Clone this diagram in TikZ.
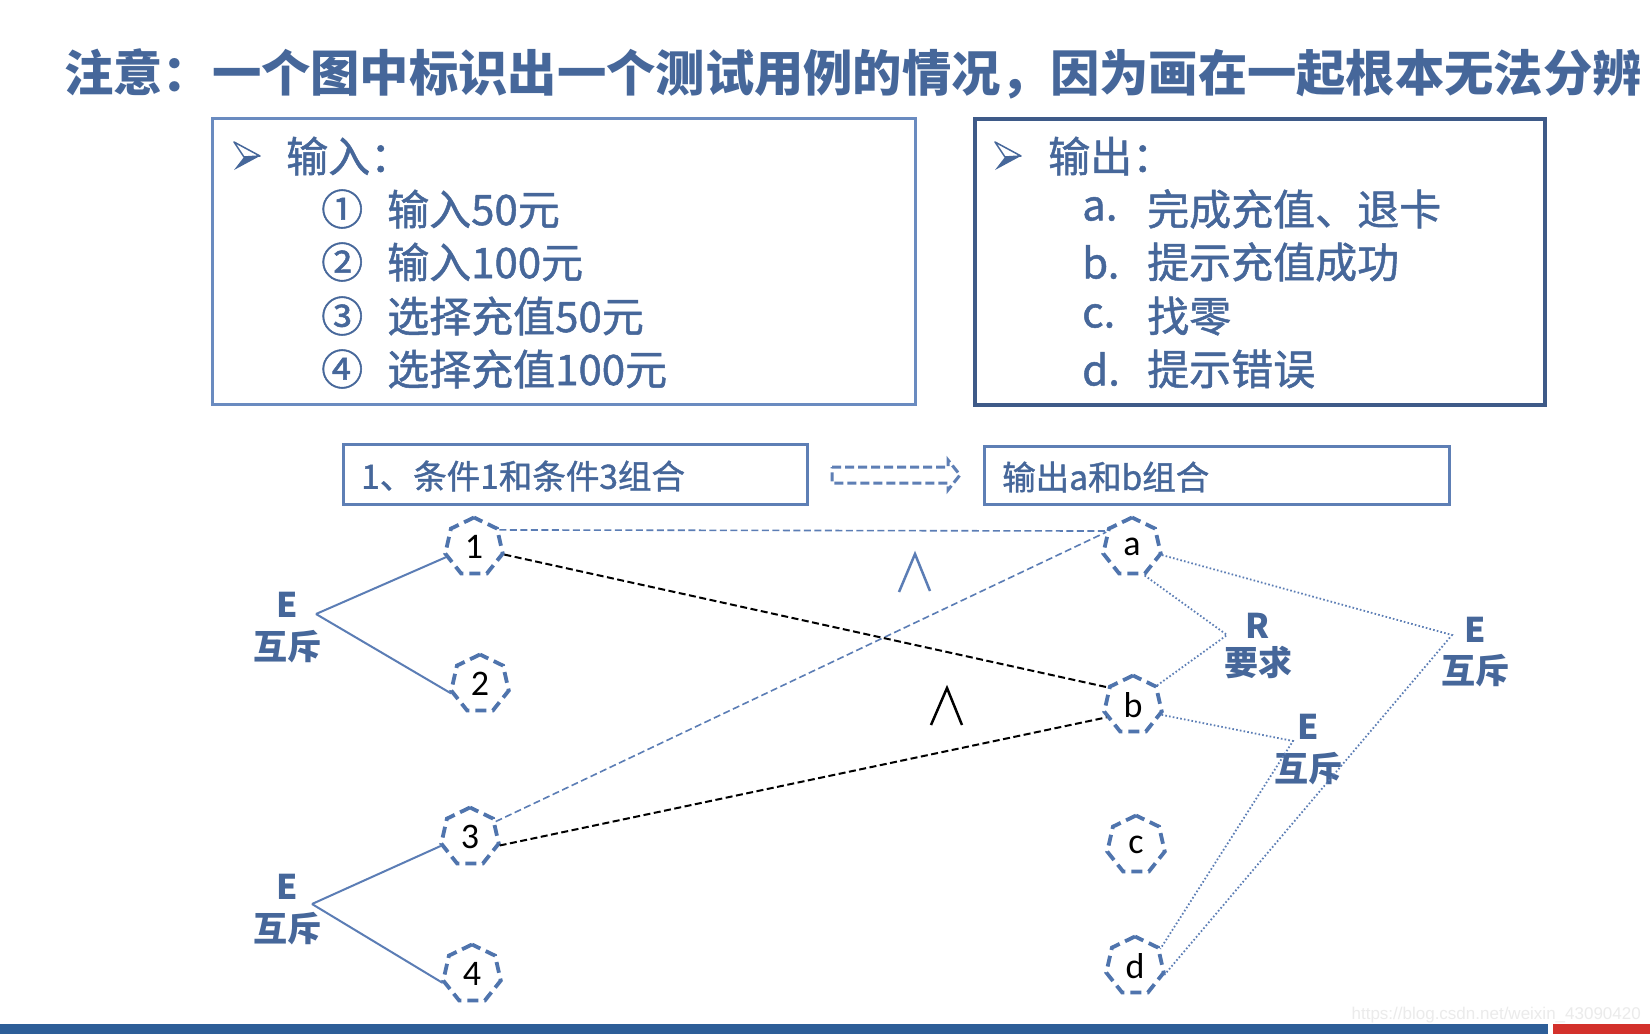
\documentclass[tikz,border=0pt]{standalone}
\usepackage{fontspec}
\setmainfont{Noto Sans CJK SC}
\newfontfamily\medfont{Noto Sans CJK SC}[FakeBold=1.2]
\newfontfamily\latfont{Carlito}
\newfontfamily\wmfont{Liberation Sans}
\usetikzlibrary{shapes.geometric}
\definecolor{tblue}{HTML}{46679A}
\definecolor{inbord}{HTML}{6A8BC0}
\definecolor{outbord}{HTML}{3E5A88}
\definecolor{smbord}{HTML}{5E7FB5}
\definecolor{nodeblue}{HTML}{4F74AD}
\definecolor{lineblue}{HTML}{5B7DB5}
\definecolor{barblue}{HTML}{2D5E98}
\definecolor{barred}{HTML}{D3312B}
\tikzset{
  hept/.style={regular polygon, regular polygon sides=7, minimum size=59pt, inner sep=0pt,
    draw=nodeblue, line width=3.8pt, dash pattern=on 11pt off 6pt,
    font=\latfont\fontsize{36}{36}\selectfont, text=black},
  lbl/.style={font=\bfseries\fontsize{34}{34}\selectfont, text=tblue, inner sep=0pt},
  boxtxt/.style={anchor=west, inner sep=0pt, font=\medfont\fontsize{42}{42}\selectfont, text=tblue},
  smtxt/.style={anchor=west, inner sep=0pt, font=\medfont\fontsize{33.5}{33.5}\selectfont, text=tblue},
  solidlink/.style={draw=lineblue, line width=2pt},
  bluedash/.style={draw=lineblue, line width=1.6pt, dash pattern=on 7pt off 3.5pt},
  blackdash/.style={draw=black, line width=2pt, dash pattern=on 7pt off 3.5pt},
  dotlink/.style={draw=lineblue, line width=1.8pt, dash pattern=on 1.6pt off 2.2pt},
  bigbox/.style={anchor=north west, inner sep=0pt},
}
\begin{document}
\begin{tikzpicture}[x=1pt,y=-1pt]
\useasboundingbox (0,0) rectangle (1650,1034);
\clip (0,0) rectangle (1650,1034);
\fill[white] (0,0) rectangle (1650,1034);

% title
\node[anchor=west, inner sep=0pt, text=tblue, font=\bfseries\fontsize{49.3}{49.3}\selectfont] (title) at (64,74)
  {注意：一个图中标识出一个测试用例的情况，因为画在一起根本无法分辨};

% input box
\node[bigbox, draw=inbord, line width=3pt, minimum width=703pt, minimum height=286pt] (inbox) at (211,117) {};
\draw[tblue, line width=1.5pt, line join=round] (260,156) -- (234,142) -- (244,157) -- cycle;
\fill[tblue] (260,156) -- (244,157) -- (234,170) -- cycle;
\node[boxtxt] (inh) at (286,156) {输入：};
\node[boxtxt] (in1n) at (321,209) {①};
\node[boxtxt] (in1) at (387,209) {输入50元};
\node[boxtxt] (in2n) at (321,262) {②};
\node[boxtxt] (in2) at (387,262) {输入100元};
\node[boxtxt] (in3n) at (321,316) {③};
\node[boxtxt] (in3) at (387,316) {选择充值50元};
\node[boxtxt] (in4n) at (321,369) {④};
\node[boxtxt] (in4) at (387,369) {选择充值100元};

% output box
\node[bigbox, draw=outbord, line width=3.5pt, minimum width=570pt, minimum height=286pt] (outbox) at (973,117) {};
\draw[tblue, line width=1.5pt, line join=round] (1021,156) -- (995,142) -- (1005,157) -- cycle;
\fill[tblue] (1021,156) -- (1005,157) -- (995,170) -- cycle;
\node[boxtxt] (outh) at (1048,156) {输出：};
\node[boxtxt] (oal) at (1082,209) {a.};
\node[boxtxt] (oa) at (1147,209) {完成充值、退卡};
\node[boxtxt] (obl) at (1082,262) {b.};
\node[boxtxt] (ob) at (1147,262) {提示充值成功};
\node[boxtxt] (ocl) at (1082,316) {c.};
\node[boxtxt] (oc) at (1147,316) {找零};
\node[boxtxt] (odl) at (1082,369) {d.};
\node[boxtxt] (od) at (1147,369) {提示错误};

% small boxes
\node[bigbox, draw=smbord, line width=3pt, minimum width=464pt, minimum height=60pt] (cbox) at (342,443) {};
\node[smtxt] (ctxt) at (361,476) {1、条件1和条件3组合};
\node[bigbox, draw=smbord, line width=3pt, minimum width=465pt, minimum height=58pt] (obox2) at (983,445) {};
\node[smtxt] (otxt) at (1002,477) {输出a和b组合};

% hollow dashed arrow
\draw[draw=smbord, line width=3pt, dash pattern=on 9pt off 4pt, line join=miter]
  (832,467) -- (948,467) -- (948,460) -- (960,475) -- (948,490) -- (948,483) -- (832,483) -- cycle;

% nodes
\node[hept] (n1) at (474,547) {1};
\node[hept] (n2) at (480,684) {2};
\node[hept] (n3) at (470,837) {3};
\node[hept] (n4) at (472,974) {4};
\node[hept] (na) at (1132,547) {a};
\node[hept] (nb) at (1133,705) {b};
\node[hept] (nc) at (1136,845) {c};
\node[hept] (nd) at (1135,966) {d};

% left relation labels
\coordinate (vL1) at (316,614);
\coordinate (vL2) at (312,904);
\node[lbl] (eL1) at (287,605) {E};
\node[lbl] (hL1) at (287,647) {互斥};
\node[lbl] (eL2) at (287,887) {E};
\node[lbl] (hL2) at (287,929) {互斥};
\draw[solidlink] (vL1) -- (n1.200);
\draw[solidlink] (vL1) -- (n2.198);
\draw[solidlink] (vL2) -- (n3.197);
\draw[solidlink] (vL2) -- (n4.197);

% right relation labels
\coordinate (vR) at (1227,635);
\coordinate (vE1) at (1452,635);
\coordinate (vE2) at (1293,741);
\node[lbl] (rR) at (1258,626) {R};
\node[lbl] (rY) at (1258,663) {要求};
\node[lbl] (e1E) at (1475,630) {E};
\node[lbl] (e1H) at (1475,671) {互斥};
\node[lbl] (e2E) at (1308,727) {E};
\node[lbl] (e2H) at (1308,769) {互斥};

\draw[dotlink] (na.-66) -- (vR) -- (nb.39);
\draw[dotlink] (na.-15) -- (vE1) -- (nd.-17);
\draw[dotlink] (nb.-19) -- (vE2) -- (nd.34);

% cause-effect connectors
\draw[bluedash] (n1.34) -- (na.148);
\draw[bluedash] (n3.31) -- (na.150);
\draw[blackdash] (n1.-14) -- (nb.145);
\draw[blackdash] (n3.-16) -- (nb.205);

% and-symbols
\draw[lineblue, line width=2.5pt] (899,592) -- (915,554) -- (930,591);
\draw[black, line width=2.5pt] (931,725) -- (947,688) -- (962,725);

% bottom bars
\fill[barblue] (0,1024) rectangle (1548,1034);
\fill[barred] (1553,1024) rectangle (1650,1034);
\node[inner sep=0pt, anchor=east, text=black!8, font=\wmfont\fontsize{17}{17}\selectfont] (wm) at (1641,1015) {https://blog.csdn.net/weixin\_43090420};
\end{tikzpicture}
\end{document}
